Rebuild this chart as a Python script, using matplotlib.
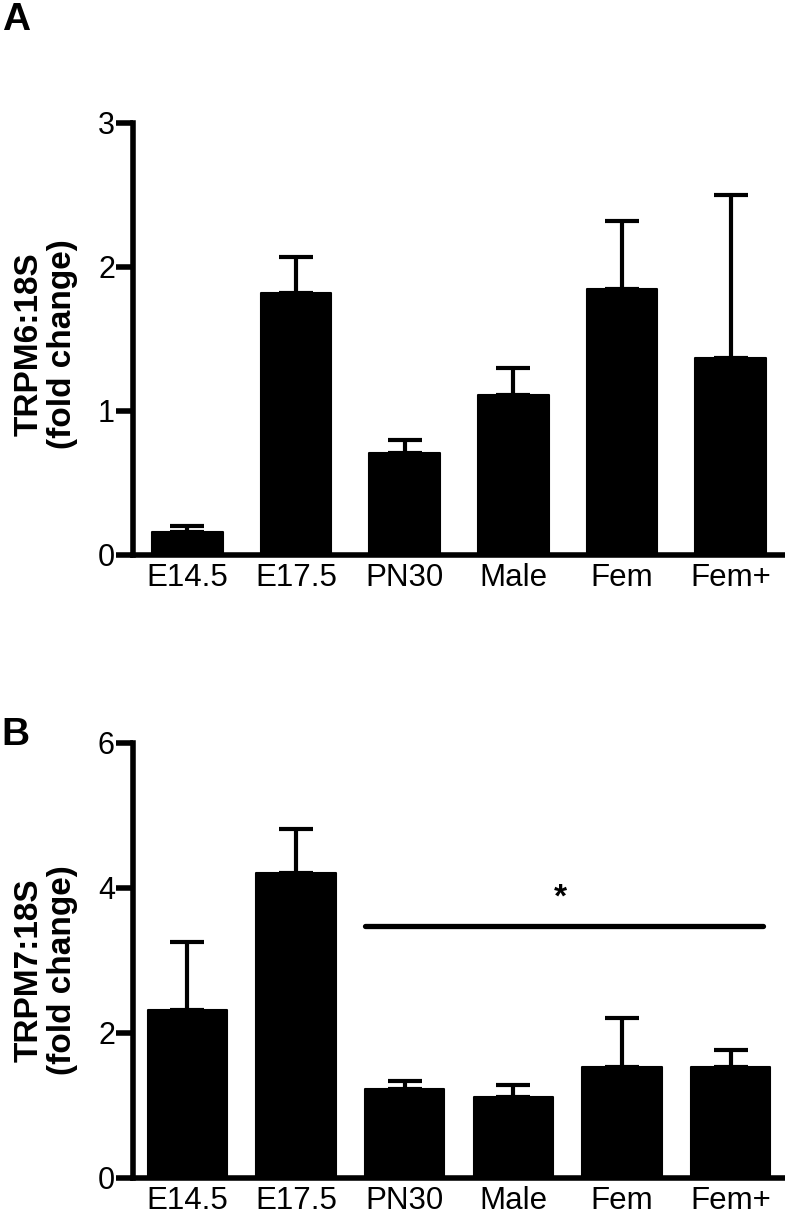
import numpy as np;
import matplotlib;
matplotlib.use('Agg');
import matplotlib.pyplot as plt;

# groups shared by both panels
groups = ['E14.5', 'E17.5', 'PN30', 'Male', 'Fem', 'Fem+'];

# panel A: TRPM6
trpm6_mean = [0.16, 1.82, 0.71, 1.11, 1.85, 1.37];
trpm6_err = [0.04, 0.25, 0.09, 0.19, 0.47, 1.13];

# panel B: TRPM7
trpm7_mean = [2.31, 4.20, 1.22, 1.11, 1.53, 1.53];
trpm7_err = [0.94, 0.61, 0.12, 0.17, 0.67, 0.23];

# significance bar in panel B (PN30 .. Fem+)
sig_from = 2;
sig_to = 5;
sig_y = 3.47;
sig_star_x = 3.43;
sig_star_y = 3.86;

plt.rcParams['font.family'] = ['Liberation Sans', 'DejaVu Sans'];

def draw_panel(ax, means, errs, ymax, yticks, bar_w) -> None:
    """
    Draws one bar panel with upward-only error bars.
    """
    x = np.arange(len(groups));
    ax.bar(x, means, width=bar_w, color='black', edgecolor='black', linewidth=1.5, joinstyle='round', zorder=3);
    ax.errorbar(x, means, yerr=[np.zeros(len(errs)), errs], fmt='none', ecolor='black',
                elinewidth=3, capsize=12.5, capthick=3, zorder=2);
    ax.set_xlim(-0.5, 5.5);
    ax.set_ylim(0, ymax);
    ax.set_yticks(yticks);
    ax.set_xticks(x);
    ax.set_xticklabels(groups);
    for s in ['top', 'right']:
        ax.spines[s].set_visible(False);
    for s in ['left', 'bottom']:
        ax.spines[s].set_linewidth(4);
        ax.spines[s].set_capstyle('projecting');
    ax.tick_params(axis='y', length=12, width=4, pad=1, labelsize=22);
    ax.tick_params(axis='x', length=0, pad=6, labelsize=22.5);

fig = plt.figure(figsize=(7.85, 12.16), dpi=100);

ax_a = fig.add_axes([0.1694, 0.5436, 0.8306, 0.3553]);
draw_panel(ax_a, trpm6_mean, trpm6_err, 3, [0, 1, 2, 3], 0.65);

ax_b = fig.add_axes([0.1694, 0.0313, 0.8306, 0.3577]);
draw_panel(ax_b, trpm7_mean, trpm7_err, 6, [0, 2, 4, 6], 0.73);

# significance line and star
ax_b.plot([sig_from - 0.365, sig_to + 0.3], [sig_y, sig_y], color='black', linewidth=3.8,
          solid_capstyle='round', zorder=4);
ax_b.text(sig_star_x, sig_star_y, '*', ha='center', va='center',
          fontsize=24, fontweight='bold');

# y labels
fig.text(0.0586, 1 - 344 / 1216, 'TRPM6:18S\n(fold change)', rotation=90, ha='center', va='center',
         fontsize=24, fontweight='bold', multialignment='center', linespacing=1.1);
fig.text(0.0586, 1 - 970 / 1216, 'TRPM7:18S\n(fold change)', rotation=90, ha='center', va='center',
         fontsize=24, fontweight='bold', multialignment='center', linespacing=1.1);

# panel letters
fig.text(0.002, 1 - 30 / 1216, 'A', fontsize=28, fontweight='bold', ha='left', va='baseline');
fig.text(0.002, 1 - 745 / 1216, 'B', fontsize=28, fontweight='bold', ha='left', va='baseline');

plt.savefig('out.png', dpi=100);
plt.close();
